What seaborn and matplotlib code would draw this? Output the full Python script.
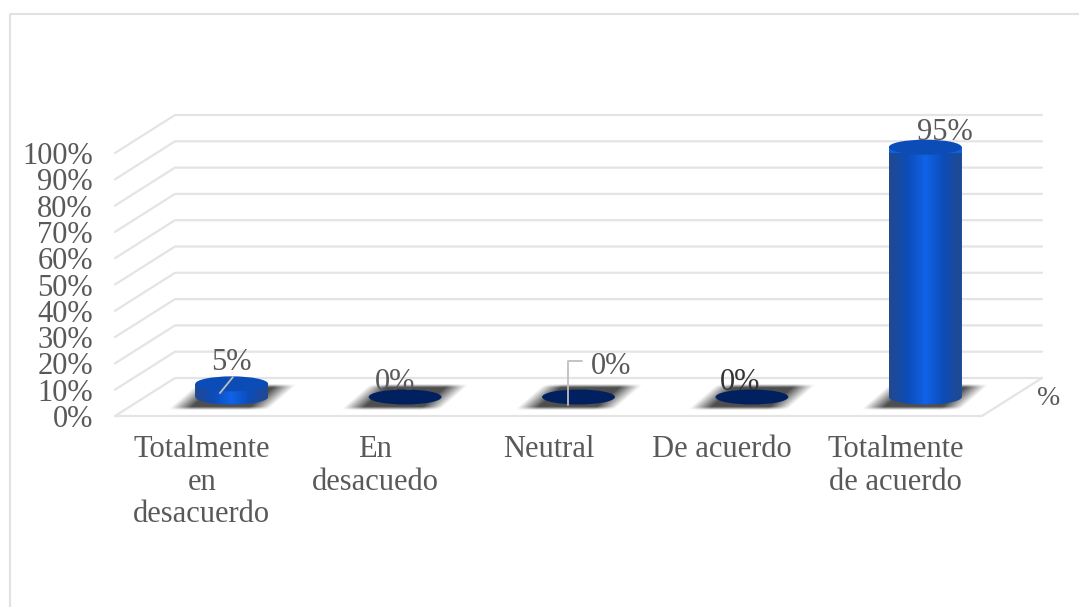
import numpy as np
import matplotlib
matplotlib.use("Agg")
import matplotlib.pyplot as plt
import seaborn as sns
from matplotlib.colors import LinearSegmentedColormap
from matplotlib.lines import Line2D
from matplotlib.patches import Ellipse, Polygon
from matplotlib.transforms import Affine2D

categories = ["Totalmente en desacuerdo", "En desacuedo", "Neutral", "De acuerdo", "Totalmente de acuerdo"]
values = [5, 0, 0, 0, 95]
value_labels = ["5%", "0%", "0%", "0%", "95%"]
category_labels = ["Totalmente\nen\ndesacuerdo", "En\ndesacuedo", "Neutral", "De acuerdo", "Totalmente\nde acuerdo"]
y_ticks = list(range(0, 101, 10))
series_label = "%"

sns.set_theme(style="white")
plt.rcParams["font.family"] = ["Liberation Serif", "DejaVu Serif"]

W, H = 1079, 607
GRAY = "#595959"
GRID = "#E4E4E4"
FS = 22
fig = plt.figure(figsize=(W / 100, H / 100), dpi=100)
L, R, T, B = 115, 982, 153, 416
ax = fig.add_axes([L / W, 1 - B / H, (R - L) / W, (B - T) / H])

sns.barplot(x=categories, y=values, color="#1060E0", width=0.42, saturation=1, ax=ax, zorder=4,
            linewidth=0, edgecolor="none")
ax.set_xlim(-0.5, 4.5)
ax.set_ylim(0, 100)
xlim, ylim = ax.get_xlim(), ax.get_ylim()
sns.despine(ax=ax, left=True, bottom=True, top=True, right=True)
ax.patch.set_visible(False)
ax.set_xlabel("")
ax.set_ylabel("")

px_x = (R - L) / 5.0
px_y = (B - T) / 100.0
depth_x, depth_y = 60 / px_x, 38 / px_y
mid = Affine2D().translate(depth_x / 2, depth_y / 2) + ax.transData

# Walls and floor
for t in y_ticks:
    ax.plot([-0.5, -0.5 + depth_x, 4.5 + depth_x], [t, t + depth_y, t + depth_y],
            color=GRID, lw=1.6, clip_on=False, zorder=1)
ax.plot([-0.5, 4.5, 4.5 + depth_x], [0, 0, depth_y], color=GRID, lw=1.6, clip_on=False, zorder=1)

# Soft shadow on the floor
u = np.linspace(-1, 1, 120)
edge = lambda a, k: np.clip((1 - np.abs(a)) * k, 0, 1)
alpha = np.outer(edge(u, 4.0), edge(u, 2.4)) * 0.95
shadow = np.zeros((120, 120, 4))
shadow[..., :3] = 0.27
shadow[..., 3] = alpha
half_w, skew, half_h = 50 / px_x, 15 / px_x, 13 / px_y
for i in range(len(values)):
    tr = Affine2D(np.array([[half_w, skew, i + depth_x / 2],
                            [0, half_h, depth_y / 2],
                            [0, 0, 1.0]])) + ax.transData
    ax.imshow(shadow, extent=[-1, 1, -1, 1], origin="lower", aspect="auto", transform=tr,
              interpolation="bilinear", clip_on=False, zorder=2)

# Cylinders
cmap = LinearSegmentedColormap.from_list("cyl", ["#23498F", "#0C4CB8", "#1163E8", "#0C4CB8", "#23498F"])
grad = np.linspace(0, 1, 128).reshape(1, -1)
bw = 0.42
eh = 7.5 / px_y
for patch in ax.containers[0]:
    patch.set_transform(mid)
    patch.set_clip_on(False)
for i, v in enumerate(values):
    if v > 0:
        th = np.linspace(np.pi, 2 * np.pi, 60)
        verts = np.column_stack([i + bw / 2 * np.cos(th), eh * np.sin(th)])
        verts = np.vstack([verts, [i + bw / 2, v], [i - bw / 2, v]])
        im = ax.imshow(grad, extent=[i - bw / 2, i + bw / 2, -eh, v], cmap=cmap, aspect="auto",
                       transform=mid, clip_on=True, zorder=5, interpolation="bilinear")
        clip = Polygon(verts, closed=True, transform=mid)
        im.set_clip_path(clip)
        top = "#0B4CB6"
    else:
        top = "#00205F"
    ax.add_patch(Ellipse((i, v), bw, 2 * eh, facecolor=top, edgecolor="none",
                         transform=mid, clip_on=False, zorder=6))

ax.set_xlim(xlim)
ax.set_ylim(ylim)

# Axes text
ax.set_xticks(range(len(category_labels)))
ax.set_xticklabels(category_labels, color=GRAY, fontsize=FS, linespacing=1.15)
ax.set_yticks(y_ticks)
ax.set_yticklabels([f"{t}%" for t in y_ticks], color=GRAY, fontsize=FS)
ax.tick_params(axis="x", length=0, pad=14)
ax.tick_params(axis="y", length=0, pad=16)
ax.grid(False)

# Data labels (pixel offsets from each value's front-plane position)
label_offsets = [(30, 40), (20, 34), (63, 50), (18, 34), (50, 34)]
label_colors = [GRAY, GRAY, GRAY, "#333333", GRAY]
for i, (v, txt) in enumerate(zip(values, value_labels)):
    ax.annotate(txt, xy=(i, v), xytext=label_offsets[i], textcoords="offset pixels",
                ha="center", va="center", fontsize=FS, color=label_colors[i],
                annotation_clip=False, zorder=8)

# Leader lines
ax.plot([0 + 0.105, 0 + 0.18], [8.7, 14.8], color="#BFBFBF", lw=1.3, clip_on=False, zorder=7)
ax.plot([2 + 0.115, 2 + 0.115, 2 + 0.195], [4.2, 20.9, 20.9], color="#BFBFBF", lw=1.3,
        clip_on=False, zorder=7)

ax.text(4.5 + depth_x + 7 / px_x, 6.8, series_label, color=GRAY, fontsize=20, ha="center", va="center")

# Chart frame
fig.add_artist(Line2D([10 / W, 10 / W, 1], [0, 1 - 14 / H, 1 - 14 / H], color="#E2E2E2", lw=1.5,
                      transform=fig.transFigure))

fig.savefig("out.png", dpi=100, facecolor="white")
